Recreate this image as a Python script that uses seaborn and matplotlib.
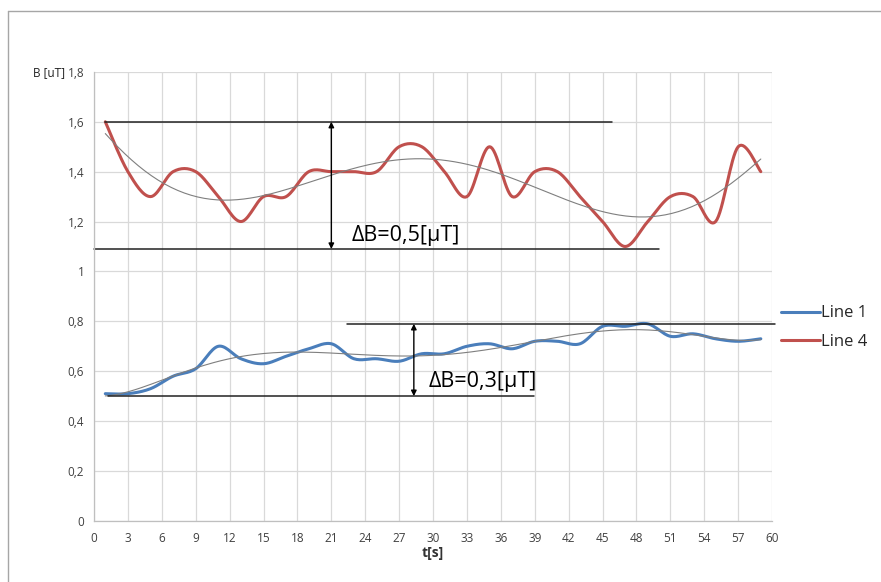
import numpy as np
import pandas as pd
import matplotlib
matplotlib.use("Agg")
import matplotlib.pyplot as plt
from matplotlib.lines import Line2D
import seaborn as sns

# Data (samples every 2 s)
t = [1, 3, 5, 7, 9, 11, 13, 15, 17, 19, 21, 23, 25, 27, 29,
     31, 33, 35, 37, 39, 41, 43, 45, 47, 49, 51, 53, 55, 57, 59]
line1 = [0.51, 0.51, 0.53, 0.58, 0.61, 0.70, 0.65, 0.63, 0.66, 0.69,
         0.71, 0.65, 0.65, 0.64, 0.67, 0.67, 0.70, 0.71, 0.69, 0.72,
         0.72, 0.71, 0.78, 0.78, 0.79, 0.74, 0.75, 0.73, 0.72, 0.73]
line4 = [1.6, 1.4, 1.3, 1.4, 1.4, 1.3, 1.2, 1.3, 1.3, 1.4,
         1.4, 1.4, 1.4, 1.5, 1.5, 1.4, 1.3, 1.5, 1.3, 1.4,
         1.4, 1.3, 1.2, 1.1, 1.2, 1.3, 1.3, 1.2, 1.5, 1.4]
labels = ["Line 1", "Line 4"]
colors = ["#4a7ebb", "#c0504d"]

# range markers: (y_top, x_top_from, x_top_to, y_bot, x_bot_from, x_bot_to, x_arrow, text, text_xy)
ranges = [
    (1.6, 1.0, 45.8, 1.09, 0.0, 50.0, 21.0, "ΔB=0,5[μT]", (22.8, 1.143)),
    (0.79, 22.4, 60.3, 0.50, 1.2, 38.9, 28.3, "ΔB=0,3[μT]", (29.6, 0.557)),
]


def smooth(x, y, n=16):
    # Excel-style smoothed line (Catmull-Rom through the points)
    x = np.asarray(x, float)
    y = np.asarray(y, float)
    px = np.concatenate([[x[0]], x, [x[-1]]])
    py = np.concatenate([[y[0]], y, [y[-1]]])
    xs, ys = [], []
    s = np.linspace(0, 1, n, endpoint=False)
    for i in range(1, len(px) - 2):
        p0, p1, p2, p3 = [np.array([px[j], py[j]]) for j in range(i - 1, i + 3)]
        c1 = p1 + (p2 - p0) / 6
        c2 = p2 - (p3 - p1) / 6
        for u in s:
            pt = (1 - u) ** 3 * p1 + 3 * (1 - u) ** 2 * u * c1 + 3 * (1 - u) * u ** 2 * c2 + u ** 3 * p2
            xs.append(pt[0])
            ys.append(pt[1])
    xs.append(x[-1])
    ys.append(y[-1])
    return np.array(xs), np.array(ys)


sns.set_style("whitegrid")
plt.rcParams["font.family"] = ["Open Sans", "DejaVu Sans"]

fig = plt.figure(figsize=(8.81, 5.82), dpi=100)
ax = fig.add_axes([0.1067, 0.105, 0.7697, 0.7715])

for name, vals, col in zip(labels, [line1, line4], colors):
    sx, sy = smooth(t, vals)
    df = pd.DataFrame({"t": sx, "B": sy})
    sns.lineplot(data=df, x="t", y="B", sort=False, color=col, lw=2.2, ax=ax)
    # polynomial trendline
    coef = np.polyfit(t, vals, 6)
    tt = np.linspace(t[0], t[-1], 200)
    sns.lineplot(x=tt, y=np.polyval(coef, tt), color="#7f7f7f", lw=0.8, ax=ax)

for yt, xa, xb, yb, xc, xd, xarr, txt, pos in ranges:
    ax.plot([xa, xb], [yt, yt], color="#222222", lw=1.1, clip_on=False)
    ax.plot([xc, xd], [yb, yb], color="#222222", lw=1.1, clip_on=False)
    ax.annotate("", xy=(xarr, yt), xytext=(xarr, yb),
                arrowprops=dict(arrowstyle="<|-|>", color="black", lw=1, mutation_scale=8,
                                shrinkA=0, shrinkB=0))
    ax.text(pos[0], pos[1], txt, fontsize=15.5, color="black", va="center", ha="left")

ax.set_xlim(0, 60)
ax.set_ylim(0, 1.8)
ax.set_xticks(np.arange(0, 61, 3))
ax.set_yticks(np.arange(0, 1.81, 0.2))
ax.set_yticklabels([("%.1f" % v).replace(".", ",").replace("0,0", "0").replace("1,0", "1") for v in np.arange(0, 1.81, 0.2)])
ax.grid(True, color="#d9d9d9", lw=0.9)
for side in ["top", "right"]:
    ax.spines[side].set_visible(False)
for side in ["left", "bottom"]:
    ax.spines[side].set_color("#bfbfbf")
    ax.spines[side].set_linewidth(0.9)
ax.tick_params(axis="both", length=4, width=0.9, color="#bfbfbf", labelsize=8.5,
               labelcolor="#404040", pad=3, direction="out")
ax.tick_params(axis="x", pad=4)
ax.set_xlabel("t[s]", fontsize=10, fontweight="bold", color="#333333", labelpad=1)
ax.set_ylabel("")
fig.text(33 / 881, 1 - 73 / 582, "B [uT]", fontsize=8.5, color="#222222", va="center", ha="left")

handles = [Line2D([], [], color=c, lw=2.2) for c in colors]
fig.legend(handles, labels, loc="center left", bbox_to_anchor=(0.870, 0.437), frameon=False,
           fontsize=12, handlelength=2.3, handletextpad=0.1, labelspacing=0.75)

# chart frame
fig.add_artist(Line2D([8 / 881, 1], [1 - 11 / 582, 1 - 11 / 582], color="#a6a6a6", lw=1))
fig.add_artist(Line2D([8 / 881, 8 / 881], [0, 1 - 11 / 582], color="#a6a6a6", lw=1))

fig.savefig("out.png", dpi=100)
